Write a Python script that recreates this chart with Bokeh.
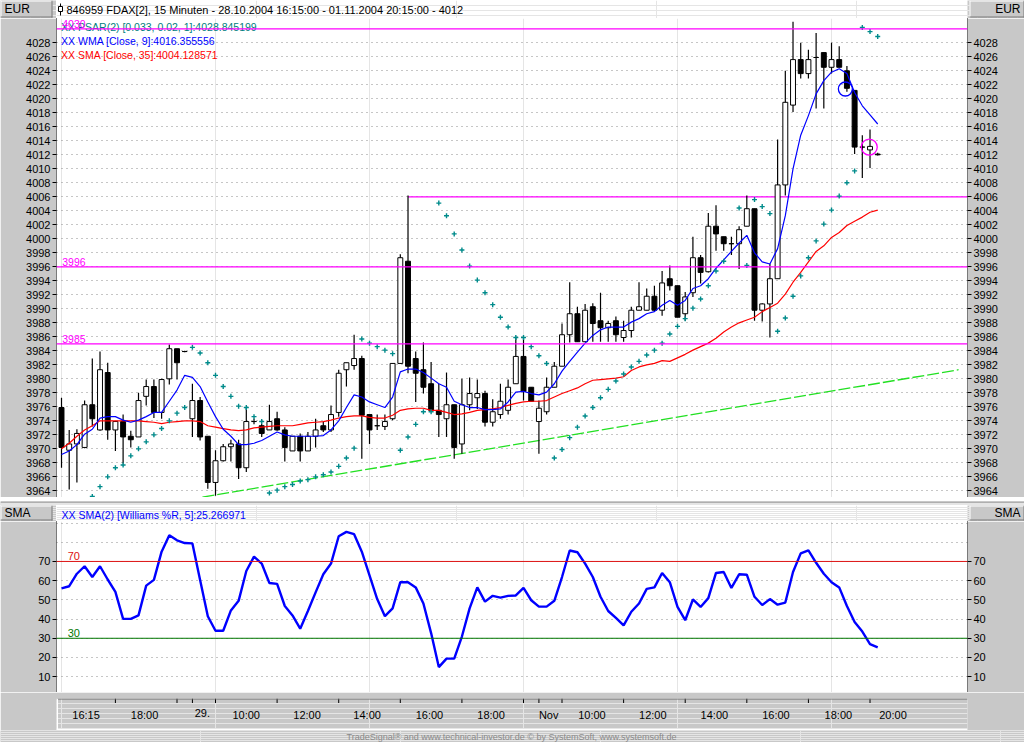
import numpy as np
from bokeh.plotting import figure
from bokeh.layouts import column, row
from bokeh.models import Range1d, LinearAxis, FixedTicker, Span, ColumnDataSource
from bokeh.core.properties import value
from bokeh.embed import file_html
from bokeh.resources import INLINE

GRAY = "#c8c8c8"
FONT = "Liberation Sans"

# ---------------- data (15-minute bars, 28.10.2004 16:15 - 01.11.2004 20:15) -------------
opens = [3975.9, 3969.8, 3970.7, 3970.2, 3976.3, 3972.7, 3980.9, 3972.7, 3973.9, 3971.8,
         3971.7, 3977.5, 3978.9, 3975.2, 3980.0, 3984.3, 3983.9, 3974.3, 3976.9, 3971.8,
         3965.2, 3968.3, 3970.3, 3970.7, 3967.3, 3973.9, 3973.3, 3972.7, 3974.3, 3972.7,
         3969.7, 3971.8, 3969.7, 3971.8, 3973.3, 3972.7, 3975.2, 3981.3, 3981.9, 3982.9,
         3974.9, 3973.3, 3973.2, 3974.3, 3982.2, 3996.8, 3982.9, 3981.3, 3979.3, 3975.5,
         3974.3, 3976.3, 3970.7, 3976.3, 3977.3, 3977.9, 3973.8, 3974.9, 3975.5, 3979.3,
         3983.2, 3978.8, 3973.9, 3975.3, 3978.8, 3981.8, 3986.3, 3989.3, 3985.3, 3990.3,
         3988.3, 3987.3, 3988.3, 3985.9, 3986.9, 3989.8, 3989.8, 3991.8, 3989.8, 3994.3,
         3993.3, 3989.3, 3992.3, 3997.3, 3995.3, 4001.8, 4000.3, 3999.3, 3999.3, 4001.8,
         4004.3, 3989.8, 3990.7, 3994.3, 4007.7, 4019.1, 4025.6, 4023.6, 4025.9, 4026.6,
         4024.5, 4025.6, 4024.0, 4021.2, 4013.1, 4012.7, 4012.1]
highs = [3977.3, 3972.7, 3972.8, 3976.9, 3982.9, 3983.9, 3982.3, 3974.0, 3974.9, 3972.6,
         3978.0, 3979.9, 3979.9, 3980.0, 3984.9, 3984.3, 3984.0, 3979.3, 3977.4, 3971.8,
         3969.8, 3970.7, 3971.3, 3971.3, 3975.9, 3974.3, 3973.6, 3976.3, 3975.3, 3973.1,
         3971.8, 3972.2, 3972.4, 3974.3, 3973.9, 3976.2, 3981.3, 3982.3, 3986.3, 3983.3,
         3974.9, 3974.9, 3974.9, 3982.2, 3997.8, 4006.2, 3983.9, 3985.2, 3982.4, 3979.3,
         3980.9, 3976.3, 3980.0, 3980.2, 3979.9, 3978.3, 3977.1, 3979.3, 3979.9, 3985.9,
         3985.9, 3978.8, 3976.9, 3980.2, 3982.4, 3987.9, 3993.8, 3990.3, 3990.7, 3990.8,
         3992.3, 3988.3, 3988.9, 3988.3, 3990.3, 3993.8, 3992.9, 3993.3, 3995.4, 3996.2,
         3993.3, 3992.4, 4000.3, 3997.7, 4003.7, 4004.8, 4000.3, 4000.3, 4001.8, 4006.2,
         4004.3, 3990.8, 3996.4, 4014.2, 4024.0, 4031.0, 4028.0, 4027.0, 4029.4, 4026.6,
         4028.0, 4027.5, 4024.7, 4021.2, 4014.8, 4015.6, 4012.3]
lows = [3967.3, 3964.2, 3965.2, 3970.1, 3973.2, 3972.6, 3971.3, 3969.7, 3967.9, 3970.2,
        3971.7, 3976.2, 3974.4, 3974.3, 3979.2, 3979.9, 3983.8, 3971.7, 3971.2, 3964.3,
        3963.3, 3968.2, 3968.2, 3965.7, 3966.7, 3973.5, 3971.7, 3972.7, 3972.6, 3968.2,
        3969.7, 3968.2, 3969.7, 3970.2, 3972.4, 3972.4, 3974.6, 3978.9, 3981.3, 3968.6,
        3970.7, 3972.7, 3972.7, 3974.1, 3982.2, 3980.8, 3976.7, 3977.9, 3975.5, 3971.7,
        3971.7, 3968.6, 3969.3, 3975.5, 3975.7, 3973.2, 3973.2, 3974.3, 3974.9, 3979.3,
        3976.9, 3976.8, 3969.3, 3974.9, 3978.8, 3981.8, 3985.2, 3985.3, 3985.3, 3985.3,
        3985.3, 3985.3, 3985.3, 3985.3, 3985.9, 3989.8, 3989.8, 3989.7, 3989.0, 3992.6,
        3988.8, 3988.3, 3991.7, 3993.6, 3995.2, 3998.3, 3998.3, 3997.7, 3995.7, 4001.8,
        3988.3, 3988.2, 3985.9, 3994.3, 4006.2, 4018.1, 4022.9, 4022.9, 4018.6, 4018.6,
        4023.6, 4024.5, 4021.0, 4012.1, 4008.7, 4010.1, 4011.9]
closes = [3970.2, 3970.7, 3972.2, 3976.3, 3974.3, 3981.3, 3972.7, 3973.9, 3971.7, 3971.3,
          3976.9, 3978.9, 3975.2, 3979.9, 3984.3, 3982.3, 3983.9, 3976.9, 3971.7, 3965.2,
          3968.3, 3970.3, 3970.7, 3967.3, 3973.9, 3973.9, 3972.2, 3973.9, 3972.7, 3970.2,
          3971.8, 3969.7, 3971.8, 3972.7, 3972.7, 3974.9, 3980.8, 3982.3, 3982.9, 3974.8,
          3972.7, 3973.3, 3973.9, 3982.2, 3997.3, 3981.8, 3980.8, 3978.8, 3975.5, 3974.9,
          3976.3, 3970.2, 3976.3, 3977.9, 3977.9, 3973.8, 3975.3, 3976.8, 3978.8, 3983.2,
          3978.2, 3976.8, 3975.8, 3978.8, 3981.8, 3986.3, 3989.3, 3985.3, 3989.8, 3987.9,
          3987.3, 3987.9, 3986.3, 3986.9, 3989.8, 3990.3, 3991.8, 3989.8, 3993.7, 3993.3,
          3988.8, 3991.7, 3997.3, 3995.2, 4001.8, 4000.7, 3999.3, 3999.3, 4001.3, 4004.3,
          3989.8, 3990.7, 3994.3, 4007.7, 4019.5, 4025.6, 4023.6, 4025.6, 4025.9, 4024.5,
          4025.6, 4024.5, 4021.5, 4013.1, 4013.1, 4013.2, 4012.0]
wma9 = [3969.2, 3969.7, 3970.6, 3972.1, 3972.8, 3974.4, 3974.6, 3974.6, 3974.1, 3973.8,
        3974.1, 3974.6, 3975.2, 3975.2, 3976.8, 3978.4, 3980.5, 3980.2, 3978.9, 3976.7,
        3974.6, 3972.8, 3971.8, 3970.6, 3970.6, 3970.8, 3971.2, 3971.8, 3972.4, 3972.0,
        3971.8, 3971.8, 3971.8, 3971.8, 3971.9, 3972.7, 3974.0, 3975.9, 3977.7, 3977.4,
        3976.7, 3976.3, 3975.9, 3977.4, 3981.0, 3981.4, 3981.4, 3980.9, 3980.1, 3979.3,
        3978.8, 3976.8, 3976.3, 3975.9, 3975.9, 3975.6, 3975.6, 3975.7, 3976.7, 3978.1,
        3978.2, 3977.9, 3977.7, 3978.1, 3979.3, 3981.1, 3982.5, 3983.8, 3985.1, 3986.2,
        3987.0, 3987.4, 3987.4, 3987.4, 3988.1, 3988.6, 3989.3, 3989.6, 3990.5, 3991.2,
        3990.5, 3991.2, 3992.9, 3993.3, 3994.3, 3995.8, 3997.0, 3998.2, 3999.4, 4000.5,
        3998.0, 3996.7, 3996.4, 3998.6, 4003.3, 4010.0, 4014.8, 4017.6, 4020.7, 4022.6,
        4023.8, 4024.3, 4023.6, 4020.9, 4019.0, 4017.7, 4016.4]
sma35 = [3970.0, 3970.8, 3971.8, 3972.7, 3973.3, 3974.0, 3974.0, 3974.0, 3974.0, 3974.0,
         3974.0, 3973.9, 3973.8, 3973.6, 3973.8, 3973.9, 3974.0, 3974.0, 3973.9, 3973.3,
         3973.1, 3972.9, 3972.7, 3972.6, 3972.7, 3973.0, 3973.1, 3973.2, 3973.3, 3973.3,
         3973.3, 3973.5, 3973.7, 3973.8, 3973.9, 3974.1, 3974.4, 3974.6, 3974.7, 3974.7,
         3974.5, 3974.4, 3974.4, 3974.8, 3975.5, 3975.7, 3975.8, 3975.8, 3975.5, 3975.5,
         3975.2, 3974.9, 3975.0, 3975.2, 3975.5, 3975.6, 3975.7, 3975.9, 3976.2, 3976.5,
         3976.7, 3976.8, 3976.8, 3976.9, 3977.4, 3977.9, 3978.3, 3978.7, 3979.3, 3979.8,
         3979.9, 3980.0, 3980.1, 3980.3, 3981.2, 3981.7, 3982.0, 3982.2, 3982.6, 3982.5,
         3983.0, 3983.5, 3984.1, 3984.6, 3985.1, 3985.8, 3986.7, 3987.4, 3988.0, 3988.4,
         3988.8, 3989.6, 3990.2, 3990.8, 3992.1, 3993.8, 3995.2, 3996.7, 3998.2, 3999.0,
         4000.2, 4000.9, 4001.9, 4002.5, 4003.1, 4003.8, 4004.1]
NAN = float("nan")
psar = [NAN, NAN, NAN, NAN, 3963.2, 3964.6, 3966.0, 3967.3, 3967.7, 3969.0,
        3970.0, 3971.0, 3972.0, 3972.9, 3974.0, 3975.1, 3975.9, 3984.5, 3983.7, 3982.3,
        3980.5, 3978.9, 3977.5, 3976.1, 3975.9, 3974.6, 3973.9, 3963.7, 3964.1, 3964.6,
        3964.9, 3965.4, 3965.6, 3966.0, 3966.3, 3966.7, 3967.5, 3968.7, 3970.1, 3985.7,
        3985.1, 3984.6, 3984.1, 3983.6, 3969.8, 3971.7, 3973.5, 3975.3, 3975.3, 4005.1,
        4003.3, 4000.7, 3998.4, 3996.1, 3994.1, 3992.3, 3990.6, 3988.8, 3987.4, 3985.9,
        3985.9, 3984.6, 3983.3, 3982.2, 3968.7, 3969.9, 3971.6, 3973.1, 3974.7, 3975.9,
        3977.3, 3978.5, 3979.7, 3980.7, 3981.7, 3982.5, 3983.4, 3984.1, 3985.1, 3986.4,
        3987.5, 3988.6, 3990.1, 3991.4, 3993.3, 3995.4, 3996.8, NAN, 4004.4, 3996.2,
        4005.6, 4004.6, 4003.6, 3986.8, 3988.7, 3991.8, 3994.7, 3997.3, 3999.7, 4002.1,
        4004.1, 4006.1, 4008.0, 4009.7, 4030.2, 4029.6, 4028.9]
williams_sma = [56.0, 57.1, 63.6, 67.5, 61.9, 67.5, 60.6, 54.2, 40.1, 40.1,
                41.9, 57.4, 60.4, 75.1, 83.6, 81.0, 79.6, 79.4, 60.4, 41.5,
                33.9, 33.9, 44.5, 49.5, 65.0, 72.5, 68.9, 58.8, 58.3, 46.8,
                41.9, 35.0, 44.2, 53.9, 63.3, 68.9, 83.1, 85.4, 84.2, 75.1,
                62.7, 50.4, 41.5, 45.6, 59.2, 59.2, 56.5, 48.1, 32.7, 15.0,
                19.4, 19.4, 30.9, 45.6, 56.5, 49.1, 52.1, 51.2, 52.1, 52.3,
                56.2, 49.8, 46.5, 46.5, 49.5, 61.9, 75.7, 74.8, 68.9, 61.9,
                51.6, 44.2, 40.6, 36.7, 43.8, 48.1, 55.7, 56.5, 64.0, 59.2,
                46.3, 39.4, 50.2, 46.3, 50.9, 64.0, 64.5, 56.2, 63.3, 63.1,
                51.6, 47.3, 50.4, 47.5, 48.6, 64.5, 74.2, 75.8, 69.3, 63.6,
                59.2, 56.5, 46.8, 38.5, 33.5, 27.0, 25.3]

# horizontal levels, resistance line, trend line, signal circles
levels = [4030, 3996, 3985]
resist_start, resist_level = 45, 4006
trend_x = [18.3, 116.5]
trend_y = [3963.1, 3981.3]
signal_x = [101.8, 104.9]
signal_y = [4021.4, 4013.1]
signal_color = ["#0000ff", "#ff00ff"]
signal_size = [14, 16]

price_ticks = list(range(3964, 4029, 2))
osc_ticks = [10, 20, 30, 40, 50, 60, 70]
osc_grid = [10, 20, 30, 40, 50, 60, 70, 80, 90]
osc_levels = [70, 30]
osc_level_colors = ["#dd1111", "#007700"]

time_ticks = [7, 15, 17, 20, 28, 36, 44, 52, 60, 62, 65, 73, 81, 89, 97, 105]
time_label_x = [1.4, 9.0, 17.3, 22.2, 30.1, 37.9, 46.0, 54.0, 62.0, 67.1, 75.0, 83.0, 91.0, 99.1, 106.2]
time_labels = ["16:15", "18:00", "29.", "10:00", "12:00", "14:00", "16:00", "18:00",
               "Nov", "10:00", "12:00", "14:00", "16:00", "18:00", "20:00"]

title_text = "846959  FDAX[2], 15 Minuten - 28.10.2004 16:15:00 - 01.11.2004 20:15:00 - 4012"
legend_texts = ["XX PSAR(2) [0.033, 0.02, 1]:4028.845199",
                "XX WMA [Close, 9]:4016.355556",
                "XX SMA [Close, 35]:4004.128571"]
legend_colors = ["#008080", "#0000ff", "#ff0000"]
osc_legend = "XX SMA(2) [Williams %R, 5]:25.266971"
footer_text = "TradeSignal\u00ae and www.technical-investor.de \u00a9 by SystemSoft, www.systemsoft.de"

# ---------------- layout constants (page has no margin: use the full window) -------------
W = 1024
LB, RB = 56, 57
PW = W - LB - RB   # 911
N = len(closes)
idx = list(range(N))
xr = Range1d(-0.65, 117.66)


def deco(h, w, bg=GRAY):
    f = figure(width=w, height=h, x_range=Range1d(0, w), y_range=Range1d(h, 0),
               toolbar_location=None, output_backend="svg",
               x_axis_location=None, y_axis_location=None, min_border=0)
    f.outline_line_color = None
    f.background_fill_color = bg
    f.border_fill_color = bg
    return f


def txt(f, x, y, t, color="black", size="11px", align="left", baseline="middle", yoff=0):
    f.text(x=x, y=y, text=t, text_color=color, text_font=value(FONT),
           text_font_size=value(size), text_align=align, text_baseline=baseline, y_offset=yoff)


def hdr_box(f, x0, x1, y0, y1, label, align):
    f.quad(left=[x0], right=[x1], top=[y0], bottom=[y1], fill_color=GRAY, line_color=None)
    f.segment(x0=[x0, x0 + 0.5, x0, x1 - 0.5], y0=[y0 + 0.5, y0, y1 - 0.5, y0],
              x1=[x1, x0 + 0.5, x1, x1 - 0.5], y1=[y0 + 0.5, y1, y1 - 0.5, y1],
              line_color=["white", "white", "#7a7a7a", "#7a7a7a"], line_width=1)
    xt = x0 + 4 if align == "left" else x1 - 4
    txt(f, [xt], [(y0 + y1) / 2.0], [label], size="12px", align=align)


def side_row(h, label, center):
    left = deco(h, LB)
    hdr_box(left, 0, 52, 0, h - 1, label, "left")
    right = deco(h, RB)
    hdr_box(right, 2, RB, 0, h - 1, label, "right")
    return row(left, center, right)


def style_axis(ax, ticks):
    ax.ticker = FixedTicker(ticks=ticks)
    ax.axis_line_color = "black"
    ax.axis_line_dash = "1 1"
    ax.major_tick_out = 4
    ax.major_tick_in = 0
    ax.major_tick_line_color = "black"
    ax.minor_tick_line_color = None
    ax.major_label_text_font = FONT
    ax.major_label_text_font_size = "11px"
    ax.major_label_text_color = "black"
    ax.major_label_standoff = 2


# ---------------- title row -------------
tc = deco(18, PW, bg="white")
tc.segment(x0=[4], y0=[3], x1=[4], y1=[15], line_color="black")
tc.quad(left=[2], right=[6], top=[6], bottom=[11], fill_color="white", line_color="black")
txt(tc, [10], [9], [title_text], size="11px")
title_row = side_row(18, "EUR", tc)

# ---------------- price panel -------------
p = figure(width=W, height=479, x_range=xr, y_range=Range1d(3963.05, 4031.47),
           toolbar_location=None, output_backend="svg", x_axis_location=None,
           y_axis_location="left", min_border_left=LB, min_border_right=RB,
           min_border_top=0, min_border_bottom=0)
p.outline_line_color = None
p.background_fill_color = "white"
p.border_fill_color = GRAY
style_axis(p.yaxis[0], price_ticks)
rax = LinearAxis()
style_axis(rax, price_ticks)
p.add_layout(rax, "right")
p.ygrid.ticker = FixedTicker(ticks=price_ticks)
p.ygrid.grid_line_color = "#8c8c8c"
p.ygrid.grid_line_dash = "1 4"

for lev in levels:
    p.add_layout(Span(location=lev, dimension="width", line_color="#ff00ff", line_width=1.2))
p.segment(x0=[resist_start], y0=[resist_level], x1=[xr.end], y1=[resist_level],
          line_color="#ff00ff", line_width=1.2)
p.line(trend_x, trend_y, line_color="#22e022", line_width=1.3, line_dash="12 3")

top = [max(o, c) for o, c in zip(opens, closes)]
bot = [min(o, c) for o, c in zip(opens, closes)]
fill = ["white" if c >= o else "black" for o, c in zip(opens, closes)]
src = ColumnDataSource(dict(x=idx, h=highs, l=lows, top=top, bot=bot, fill=fill))
p.segment(x0="x", y0="l", x1="x", y1="h", source=src, line_color="black", line_width=1.2)
p.vbar(x="x", width=0.64, top="top", bottom="bot", fill_color="fill", line_color="black",
       line_width=1, source=src)

p.line(idx, sma35, line_color="#ff0000", line_width=1.2)
p.line(idx, wma9, line_color="#0000ff", line_width=1.2)
p.scatter(idx, np.array(psar, dtype=float), marker="cross", size=5, line_color="#008b8b",
          line_width=1.4)
p.scatter(signal_x, signal_y, marker="circle", size=signal_size, fill_color=None,
          line_color=signal_color, line_width=1.3)

leg_y = [4030.2, 4028.2, 4026.2]
for s, yv, col in zip(legend_texts, leg_y, legend_colors):
    txt(p, [-0.05], [yv], [s], color=col, size="10.5px", baseline="alphabetic")
txt(p, [0.1] * len(levels), levels, [str(v) for v in levels], color="#ff00ff",
    size="10.5px", baseline="bottom", yoff=-1)

# ---------------- separator -------------
s1 = deco(8, W)
s1.segment(x0=[0, 0], y0=[0.5, 6.5], x1=[W, W], y1=[0.5, 6.5],
           line_color=["#7a7a7a", "white"], line_width=1)
sep_row = row(s1)

# ---------------- oscillator header -------------
oc = deco(16, PW, bg="white")
txt(oc, [5], [9], [osc_legend], color="#0000ff", size="10.5px")
osc_head = side_row(16, "SMA", oc)

# ---------------- oscillator panel -------------
o = figure(width=W, height=171, x_range=xr, y_range=Range1d(1.77, 90.8),
           toolbar_location=None, output_backend="svg", x_axis_location=None,
           y_axis_location="left", min_border_left=LB, min_border_right=RB,
           min_border_top=0, min_border_bottom=0)
o.outline_line_color = None
o.background_fill_color = "white"
o.border_fill_color = GRAY
style_axis(o.yaxis[0], osc_ticks)
rax2 = LinearAxis()
style_axis(rax2, osc_ticks)
o.add_layout(rax2, "right")
o.ygrid.ticker = FixedTicker(ticks=osc_grid)
o.ygrid.grid_line_color = "#8c8c8c"
o.ygrid.grid_line_dash = "1 4"
for lev, col in zip(osc_levels, osc_level_colors):
    o.add_layout(Span(location=lev, dimension="width", line_color=col, line_width=1))
txt(o, [0.8] * 2, osc_levels, [str(v) for v in osc_levels], color=osc_level_colors,
    size="11px", baseline="bottom", yoff=-1)
o.line(idx, williams_sma, line_color="#0000ff", line_width=2.4)

# ---------------- time axis strip -------------
st = figure(width=W, height=38, x_range=xr, y_range=Range1d(32, 0),
            toolbar_location=None, output_backend="svg", x_axis_location=None,
            y_axis_location=None, min_border_left=LB, min_border_right=RB,
            min_border_top=6, min_border_bottom=0)
st.outline_line_color = None
st.background_fill_color = GRAY
st.border_fill_color = GRAY
st.add_layout(Span(location=0.5, dimension="width", line_color="#6a6a6a", line_width=1))
st.add_layout(Span(location=31.2, dimension="width", line_color="white", line_width=1.5))
st.add_layout(Span(location=-0.55, dimension="height", line_color="white", line_width=1.5))
st.segment(x0=time_ticks, y0=[0] * len(time_ticks), x1=time_ticks, y1=[4.5] * len(time_ticks),
           line_color="black", line_width=1)
txt(st, time_label_x, [10] * len(time_label_x), time_labels, size="11px", baseline="top")

# ---------------- footer -------------
ft = deco(12, W)
txt(ft, [511], [6], [footer_text], color="#8a8a8a", size="9px", align="center")
foot_row = row(ft)

layout = column(title_row, p, sep_row, osc_head, o, st, foot_row)
open("out.html", "w").write(file_html(layout, INLINE))
